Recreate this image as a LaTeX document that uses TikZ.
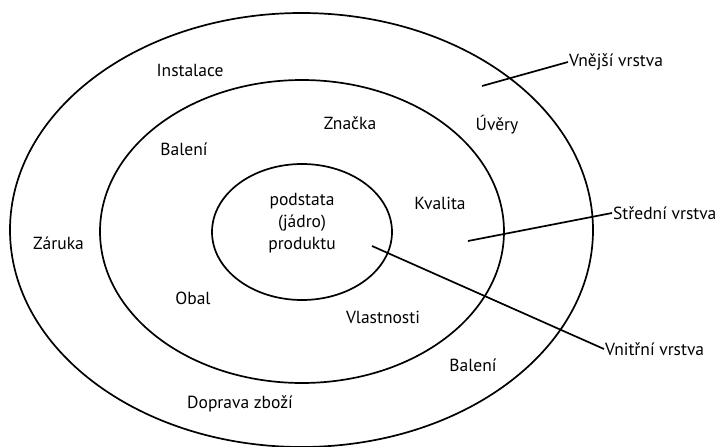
\documentclass[tikz,border=0pt]{standalone}
\usepackage{fontspec}
\setmainfont{PT Sans}
\usetikzlibrary{positioning}

\begin{document}
\begin{tikzpicture}[x=1pt, y=-1pt,
    every node/.style={font=\fontsize{17.5}{20}\selectfont},
    ring/.style={draw, line width=1.7pt},
    leader/.style={line width=1.7pt},
    layer/.style={anchor=west, inner sep=1pt}]
  \useasboundingbox (0,0) rectangle (723,447);
  % three layers
  \draw[ring] (301.5,230) ellipse [x radius=291.5pt, y radius=217pt];
  \draw[ring] (302,231.5) ellipse [x radius=202pt, y radius=151.5pt];
  \draw[ring] (302,232) ellipse [x radius=90pt, y radius=68pt];
  \node[align=center, font=\fontsize{17.5}{22}\selectfont] (core) at (302,223)
    {podstata\\(jádro)\\produktu};
  % outer layer
  \node (instalace) at (190,70) {Instalace};
  \node (uvery) at (497,125) {Úvěry};
  \node (zaruka) at (58.5,243) {Záruka};
  \node (baleniB) at (473,365) {Balení};
  \node (doprava) at (240,404) {Doprava zboží};
  % middle layer
  \node (znacka) at (350,123) {Značka};
  \node (baleniA) at (184,149) {Balení};
  \node (kvalita) at (440,203) {Kvalita};
  \node (obal) at (193,298) {Obal};
  \node (vlastnosti) at (383,317) {Vlastnosti};
  % leaders
  \node[layer] (vnejsi) at (568,62) {Vnější vrstva};
  \node[layer] (stredni) at (612,213) {Střední vrstva};
  \node[layer] (vnitrni) at (604,349) {Vnitřní vrstva};
  \coordinate (pOut) at (482,86);
  \coordinate (pMid) at (468,241);
  \coordinate (pIn) at (372,246);
  \draw[leader] (pOut) -- (vnejsi.west);
  \draw[leader] (pMid) -- (stredni.west);
  \draw[leader] (pIn) -- (vnitrni.west);
\end{tikzpicture}
\end{document}
